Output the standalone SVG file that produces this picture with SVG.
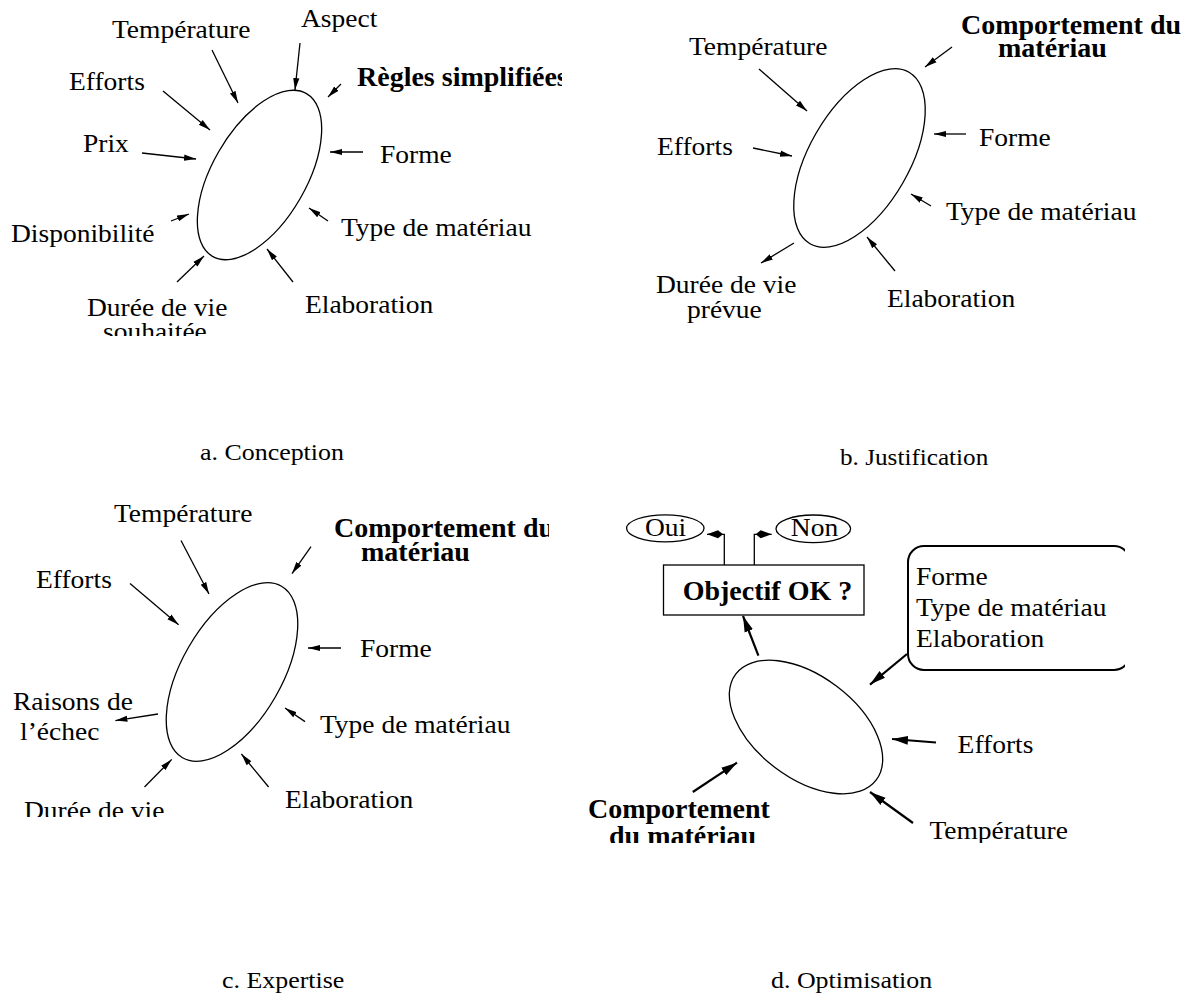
<svg xmlns="http://www.w3.org/2000/svg" width="1191" height="999" viewBox="0 0 1191 999">
<style>
text{font-family:"Liberation Serif","Times New Roman",serif;font-size:25px;fill:#000}
.b{font-weight:bold;font-size:28px}
.cap{font-size:24px}
.e{fill:none;stroke:#000;stroke-width:1.3}
.c line,.c path{stroke:#000;stroke-width:1.3;fill:none;marker-end:url(#ah)}
.cd line,.cd path{stroke:#000;stroke-width:2.2;fill:none;marker-end:url(#ahb)}
.cd .k{stroke-width:1.3;marker-end:url(#ahk)}
</style>
<defs>
<marker id="ah" viewBox="0 0 12 8" refX="12" refY="4" markerWidth="12" markerHeight="8" orient="auto" markerUnits="userSpaceOnUse"><path d="M0,0.9 L12,4 L0,7.1 z" fill="#000"/></marker>
<marker id="ahb" viewBox="0 0 16 10" refX="16" refY="5" markerWidth="16" markerHeight="10" orient="auto" markerUnits="userSpaceOnUse"><path d="M0,0.6 L16,5 L0,9.4 z" fill="#000"/></marker>
<marker id="ahk" viewBox="0 0 16 10" refX="16" refY="5" markerWidth="16" markerHeight="10" orient="auto" markerUnits="userSpaceOnUse"><path d="M0,5 L5,1 L16,5 L5,9 z" fill="#000"/></marker>
<clipPath id="cpa"><rect x="0" y="0" width="562" height="336"/></clipPath>
<clipPath id="cpc"><rect x="0" y="490" width="549" height="327"/></clipPath>
<clipPath id="cpd"><rect x="560" y="490" width="565" height="353"/></clipPath>
</defs>
<rect width="1191" height="999" fill="#fff"/>

<!-- Panel a -->
<g id="panel-a" clip-path="url(#cpa)">
<g id="a-ellipse"><ellipse class="e" cx="0" cy="0" rx="94" ry="47" transform="translate(259.5 175) rotate(-60)"/></g>
<g id="a-temperature"><text transform="translate(112 38) scale(1.1 1)">Température</text></g>
<g id="a-aspect"><text transform="translate(301 27) scale(1.1 1)">Aspect</text></g>
<g id="a-efforts"><text transform="translate(69 90) scale(1.1 1)">Efforts</text></g>
<g id="a-regles"><text class="b" x="357" y="86">Règles simplifiées</text></g>
<g id="a-prix"><text transform="translate(83 152) scale(1.1 1)">Prix</text></g>
<g id="a-forme"><text transform="translate(380 163) scale(1.1 1)">Forme</text></g>
<g id="a-dispo"><text transform="translate(11 242) scale(1.1 1)">Disponibilité</text></g>
<g id="a-type"><text transform="translate(341 236) scale(1.1 1)">Type de matériau</text></g>
<g id="a-duree"><text transform="translate(87 316) scale(1.1 1)">Durée de vie</text><text transform="translate(103 340) scale(1.1 1)">souhaitée</text></g>
<g id="a-elab"><text transform="translate(305 313) scale(1.1 1)">Elaboration</text></g>
<g id="a-connectors" class="c">
<line x1="212" y1="50" x2="238" y2="103"/>
<line x1="300" y1="43" x2="295" y2="90"/>
<line x1="341" y1="84" x2="328" y2="97"/>
<line x1="163" y1="91" x2="210" y2="130"/>
<line x1="142" y1="153" x2="196" y2="159"/>
<line x1="363" y1="152" x2="330" y2="152"/>
<line x1="171" y1="221" x2="189" y2="214"/>
<line x1="328" y1="221" x2="309" y2="208"/>
<line x1="177" y1="282" x2="204" y2="256"/>
<line x1="293" y1="282" x2="267" y2="249"/>
</g>
</g>
<g id="caption-a"><text class="cap" transform="translate(200 460) scale(1.08 1)">a. Conception</text></g>

<!-- Panel b -->
<g id="panel-b">
<g id="b-ellipse"><ellipse class="e" cx="0" cy="0" rx="99" ry="50" transform="translate(859.5 158) rotate(-60)"/></g>
<g id="b-temperature"><text transform="translate(689 55) scale(1.1 1)">Température</text></g>
<g id="b-comportement"><text class="b" x="961" y="34">Comportement du</text><text class="b" x="998" y="57">matériau</text></g>
<g id="b-efforts"><text transform="translate(657 155) scale(1.1 1)">Efforts</text></g>
<g id="b-forme"><text transform="translate(979 146) scale(1.1 1)">Forme</text></g>
<g id="b-type"><text transform="translate(946 220) scale(1.1 1)">Type de matériau</text></g>
<g id="b-duree"><text transform="translate(656 293) scale(1.1 1)">Durée de vie</text><text transform="translate(687 318) scale(1.1 1)">prévue</text></g>
<g id="b-elab"><text transform="translate(887 307) scale(1.1 1)">Elaboration</text></g>
<g id="b-connectors" class="c">
<line x1="759" y1="69" x2="807" y2="111"/>
<line x1="952" y1="47" x2="925" y2="67"/>
<line x1="753" y1="148" x2="792" y2="156"/>
<line x1="966" y1="134" x2="934" y2="134"/>
<line x1="931" y1="206" x2="911" y2="194"/>
<line x1="794" y1="243" x2="761" y2="263"/>
<line x1="895" y1="271" x2="867" y2="237"/>
</g>
</g>
<g id="caption-b"><text class="cap" transform="translate(840 465) scale(1.05 1)">b. Justification</text></g>

<!-- Panel c -->
<g id="panel-c" clip-path="url(#cpc)">
<g id="c-ellipse"><ellipse class="e" cx="0" cy="0" rx="99" ry="50" transform="translate(232 672) rotate(-60)"/></g>
<g id="c-temperature"><text transform="translate(114 522) scale(1.1 1)">Température</text></g>
<g id="c-comportement"><text class="b" x="334" y="537">Comportement du</text><text class="b" x="361" y="561">matériau</text></g>
<g id="c-efforts"><text transform="translate(36 588) scale(1.1 1)">Efforts</text></g>
<g id="c-forme"><text transform="translate(360 657) scale(1.1 1)">Forme</text></g>
<g id="c-raisons"><text transform="translate(13 710) scale(1.1 1)">Raisons de</text><text transform="translate(20 740) scale(1.1 1)">l’échec</text></g>
<g id="c-type"><text transform="translate(320 733) scale(1.1 1)">Type de matériau</text></g>
<g id="c-duree"><text transform="translate(24 819) scale(1.1 1)">Durée de vie</text></g>
<g id="c-elab"><text transform="translate(285 808) scale(1.1 1)">Elaboration</text></g>
<g id="c-connectors" class="c">
<line x1="181" y1="540.5" x2="209" y2="594"/>
<line x1="311" y1="546.6" x2="292" y2="573.5"/>
<line x1="130" y1="583.6" x2="178.6" y2="624.7"/>
<line x1="341" y1="648" x2="308" y2="648"/>
<line x1="158" y1="714" x2="115.4" y2="720.6"/>
<line x1="305" y1="721.6" x2="285" y2="708"/>
<line x1="144.5" y1="787" x2="171.7" y2="759.4"/>
<line x1="268.6" y1="787" x2="241.4" y2="754"/>
</g>
</g>
<g id="caption-c"><text class="cap" transform="translate(222 988) scale(1.08 1)">c. Expertise</text></g>

<!-- Panel d -->
<g id="panel-d" clip-path="url(#cpd)">
<g id="d-oui"><ellipse class="e" cx="665.3" cy="528.3" rx="38.7" ry="13.5"/><text text-anchor="middle" transform="translate(665.5 536) scale(1.1 1)">Oui</text></g>
<g id="d-non"><ellipse class="e" cx="813.3" cy="528.8" rx="37.3" ry="13.8"/><text text-anchor="middle" transform="translate(814.5 536) scale(1.1 1)">Non</text></g>
<g id="d-objectif"><rect x="663.5" y="565" width="200.5" height="50" fill="none" stroke="#000" stroke-width="1.3"/><text class="b" x="682.7" y="600">Objectif OK ?</text></g>
<g id="d-params"><rect x="908" y="546" width="222" height="124" rx="16" ry="16" fill="none" stroke="#000" stroke-width="2"/><text transform="translate(916 585) scale(1.1 1)">Forme</text><text transform="translate(916 616) scale(1.1 1)">Type de matériau</text><text transform="translate(916 647) scale(1.1 1)">Elaboration</text></g>
<g id="d-ellipse"><ellipse class="e" cx="0" cy="0" rx="88" ry="51" transform="translate(806 727) rotate(37)"/></g>
<g id="d-efforts"><text transform="translate(957.6 752.6) scale(1.1 1)">Efforts</text></g>
<g id="d-temperature"><text transform="translate(929.4 839) scale(1.1 1)">Température</text></g>
<g id="d-comportement"><text class="b" x="588" y="818">Comportement</text><text class="b" x="609" y="845">du matériau</text></g>
<g id="d-connectors" class="cd">
<path class="k" d="M724.3,565 V534.3 H707"/>
<path class="k" d="M754.3,565 V534.3 H771.7"/>
<line x1="758.4" y1="655.7" x2="743" y2="616"/>
<line x1="907" y1="654" x2="870" y2="684.6"/>
<line x1="936" y1="742.5" x2="892" y2="739"/>
<line x1="913" y1="823" x2="870" y2="792"/>
<line x1="692.8" y1="792" x2="737" y2="762.7"/>
</g>
</g>
<g id="caption-d"><text class="cap" transform="translate(771 988) scale(1.08 1)">d. Optimisation</text></g>
</svg>
